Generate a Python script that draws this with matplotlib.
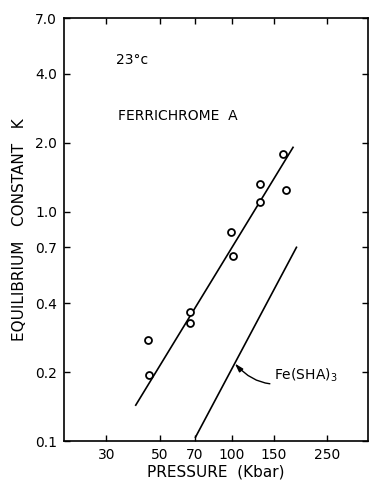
import matplotlib
matplotlib.use('Agg')
import matplotlib.pyplot as plt

# Ferrichrome A measurements (pressure in Kbar, equilibrium constant K)
pressure = [45.3, 44.9, 67.2, 67.2, 99.7, 100.7, 131, 131, 163, 168]
k_values = [0.194, 0.276, 0.328, 0.365, 0.818, 0.639, 1.10, 1.32, 1.79, 1.25]

# fitted lines (end points)
ferri_line_p = [39.8, 180]
ferri_line_k = [0.1435, 1.91]
sha_line_p = [70.6, 186]
sha_line_k = [0.104, 0.70]

x_ticks = [30, 50, 70, 100, 150, 250]
y_ticks = [0.1, 0.2, 0.4, 0.7, 1.0, 2.0, 4.0, 7.0]
y_tick_labels = ['0.1', '0.2', '0.4', '0.7', '1.0', '2.0', '4.0', '7.0']

fig = plt.figure(figsize=(3.7, 4.8), dpi=100)
ax = fig.add_axes([0.173, 0.081, 0.822, 0.8815])

ax.plot(ferri_line_p, ferri_line_k, color='black', lw=1.2)
ax.plot(sha_line_p, sha_line_k, color='black', lw=1.2)
ax.plot(pressure, k_values, 'o', mfc='white', mec='black', ms=5, mew=1.3)

ax.set_xscale('log')
ax.set_yscale('log')
ax.set_xlim(20, 370)
ax.set_ylim(0.1, 7.0)

ax.set_xticks(x_ticks)
ax.set_xticklabels([str(t) for t in x_ticks])
ax.set_yticks(y_ticks)
ax.set_yticklabels(y_tick_labels)
ax.minorticks_off()
ax.tick_params(direction='in', top=True, right=True, length=4, width=1,
               labelsize=10, pad=5)

for s in ax.spines.values():
    s.set_linewidth(1.2)

ax.set_xlabel('PRESSURE  (Kbar)', fontsize=11, labelpad=2)
ax.set_ylabel('EQUILIBRIUM   CONSTANT   K', fontsize=11, labelpad=6)

ax.text(32.8, 4.59, '23°c', fontsize=10, va='center', ha='left')
ax.text(33.5, 2.61, 'FERRICHROME  A', fontsize=10, va='center', ha='left')

ax.annotate('Fe(SHA)$_3$', xy=(103, 0.218), xytext=(150, 0.194),
            fontsize=10, va='center', ha='left',
            arrowprops=dict(arrowstyle='-|>,head_length=0.5,head_width=0.15',
                            color='black', lw=1.0,
                            connectionstyle='arc3,rad=-0.4',
                            shrinkA=1, shrinkB=0))

fig.savefig('out.png', dpi=100)
